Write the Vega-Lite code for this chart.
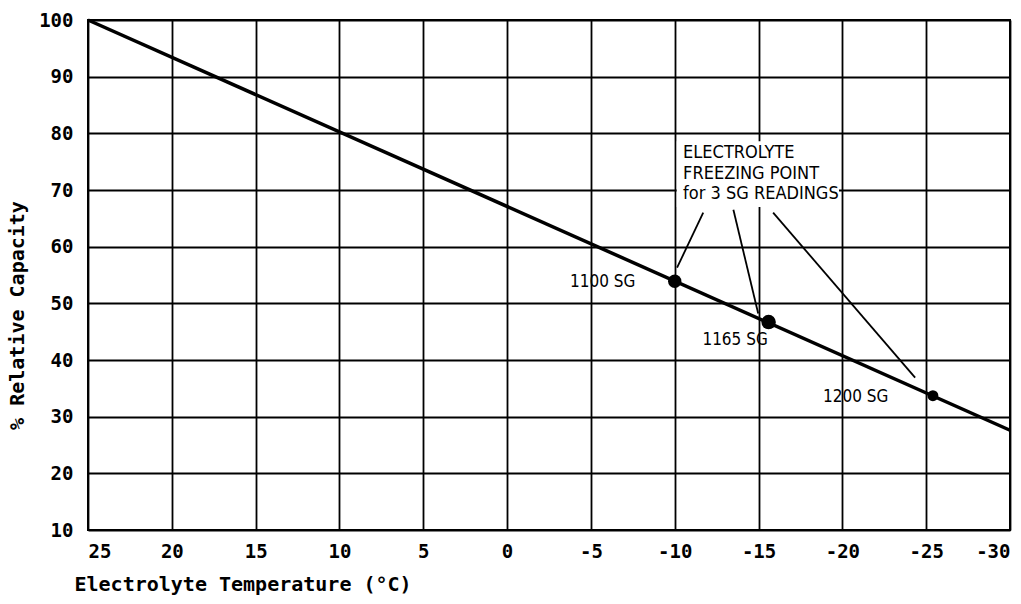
{
  "$schema": "https://vega.github.io/schema/vega-lite/v6.json",
  "width": 922,
  "height": 510,
  "autosize": {"type": "none"},
  "padding": {"left": 88, "top": 20, "right": 11, "bottom": 74},
  "background": "white",
  "config": {
    "view": {"stroke": "black", "strokeWidth": 2},
    "axis": {
      "grid": true, "gridColor": "black", "gridWidth": 1.8, "gridOpacity": 1,
      "domain": false, "ticks": false,
      "labelFont": "DejaVu Sans Mono", "labelFontWeight": "bold", "labelFontSize": 19, "labelColor": "black",
      "titleFont": "DejaVu Sans Mono", "titleFontWeight": "bold", "titleFontSize": 20, "titleColor": "black"
    }
  },
  "datasets": {
    "curve": [
      {"temp": 25, "cap": 100},
      {"temp": -30, "cap": 27.6}
    ],
    "points": [
      {"temp": -10, "cap": 53.9, "sg": "1100 SG", "size": 180},
      {"temp": -15.6, "cap": 46.7, "sg": "1165 SG", "size": 210},
      {"temp": -25.4, "cap": 33.7, "sg": "1200 SG", "size": 120}
    ],
    "labels": [
      {"temp": -5.7, "cap": 53.7, "text": "1100 SG"},
      {"temp": -13.6, "cap": 43.6, "text": "1165 SG"},
      {"temp": -20.8, "cap": 33.4, "text": "1200 SG"}
    ],
    "leaders": [
      {"t1": -11.7, "c1": 66.0, "t2": -10.14, "c2": 56.3},
      {"t1": -13.5, "c1": 66.5, "t2": -14.98, "c2": 48.2},
      {"t1": -15.87, "c1": 66.0, "t2": -24.34, "c2": 36.9}
    ],
    "box": [{"t1": -10.12, "t2": -19.8, "c1": 67.0, "c2": 78.6}],
    "note": [{"temp": -10.5, "cap": 76.5, "text": ["ELECTROLYTE", "FREEZING POINT", "for 3 SG READINGS"]}]
  },
  "encoding": {
    "x": {
      "field": "temp", "type": "quantitative",
      "scale": {"domain": [-30, 25], "reverse": true, "nice": false, "zero": false},
      "axis": {
        "values": [25, 20, 15, 10, 5, 0, -5, -10, -15, -20, -25, -30],
        "labelExpr": "'' + datum.value",
        "labelPadding": 12,
        "title": "Electrolyte Temperature (°C)",
        "titleAnchor": "start", "titleAlign": "left", "titleX": -14, "titleY": 54, "titleBaseline": "middle"
      }
    },
    "y": {
      "field": "cap", "type": "quantitative",
      "scale": {"domain": [10, 100], "nice": false, "zero": false},
      "axis": {
        "values": [10, 20, 30, 40, 50, 60, 70, 80, 90, 100],
        "labelPadding": 15,
        "title": "% Relative Capacity",
        "titleAngle": -90, "titleX": -71, "titleY": 295, "titleAlign": "center", "titleBaseline": "middle"
      }
    }
  },
  "layer": [
    {
      "data": {"name": "box"},
      "mark": {"type": "rect", "fill": "white", "stroke": null},
      "encoding": {
        "x": {"field": "t1", "type": "quantitative"},
        "x2": {"field": "t2"},
        "y": {"field": "c1", "type": "quantitative"},
        "y2": {"field": "c2"}
      }
    },
    {
      "data": {"name": "curve"},
      "mark": {"type": "line", "color": "black", "strokeWidth": 3.5},
      "encoding": {}
    },
    {
      "data": {"name": "leaders"},
      "mark": {"type": "rule", "color": "black", "strokeWidth": 1.8},
      "encoding": {
        "x": {"field": "t1", "type": "quantitative"},
        "x2": {"field": "t2"},
        "y": {"field": "c1", "type": "quantitative"},
        "y2": {"field": "c2"}
      }
    },
    {
      "data": {"name": "points"},
      "mark": {"type": "circle", "color": "black", "opacity": 1},
      "encoding": {
        "size": {"field": "size", "type": "quantitative", "scale": null}
      }
    },
    {
      "data": {"name": "labels"},
      "mark": {"type": "text", "font": "'DejaVu Sans Condensed', 'Liberation Sans Narrow', sans-serif", "fontSize": 17, "color": "black", "baseline": "middle", "align": "center"},
      "encoding": {
        "text": {"field": "text"}
      }
    },
    {
      "data": {"name": "note"},
      "mark": {"type": "text", "font": "'DejaVu Sans Condensed', 'Liberation Sans Narrow', sans-serif", "fontSize": 18, "lineHeight": 20.5, "color": "black", "baseline": "middle", "align": "left"},
      "encoding": {
        "text": {"field": "text"}
      }
    }
  ]
}
